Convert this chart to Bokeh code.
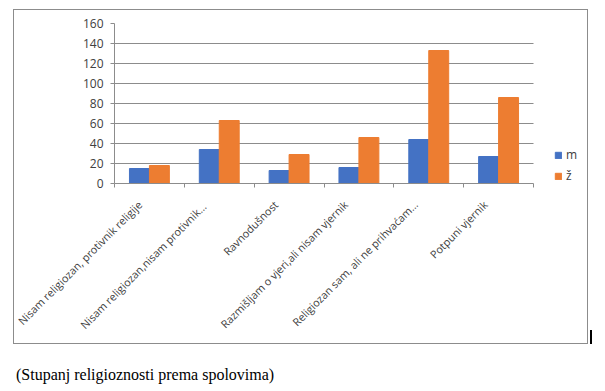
import math
from bokeh.plotting import figure
from bokeh.models import (ColumnDataSource, Range1d, FixedTicker, Legend, LegendItem, Div)
from bokeh.layouts import column, row
from bokeh.transform import dodge
from bokeh.embed import file_html
from bokeh.resources import INLINE

categories = [
    "Nisam religiozan, protivnik religije",
    "Nisam religiozan,nisam  protivnik…",
    "Ravnodušnost",
    "Razmišljam o vjeri,ali nisam vjernik",
    "Religiozan sam, ali ne prihvaćam…",
    "Potpuni vjernik",
]
m_values = [15, 34, 13, 16, 44, 27]
z_values = [18, 63, 29, 46, 133, 86]
y_ticks = [0, 20, 40, 60, 80, 100, 120, 140, 160]
series_names = ["m", "ž"]
caption = "(Stupanj religioznosti prema spolovima)"

BLUE = "#4472C4"
ORANGE = "#ED7D31"
GRAY = "#8c8c8c"
TEXT = "#404040"
FONT = "Open Sans"

n = len(categories)
centers = [i + 0.5 for i in range(n)]
label_pos = [c - 0.19 for c in centers]
src = ColumnDataSource(dict(x=centers, m=m_values, z=z_values))

W, H = 575, 335
LEFT, TOP, BOTTOM = 100, 13, 162
PLOT_W = 419                        # width of the category area in px
frame_w = W - LEFT                  # frame runs to the right edge (room for legend)
x_end = n * frame_w / PLOT_W

p = figure(width=W, height=H, output_backend="svg", toolbar_location=None,
           x_range=Range1d(0, x_end), y_range=Range1d(0, 160),
           min_border_left=LEFT, min_border_right=0, min_border_top=TOP,
           min_border_bottom=BOTTOM, margin=(9, 0, 0, 13),
           styles={"border": "1px solid #8c8c8c"})
p.outline_line_color = None
p.background_fill_color = "white"
p.border_fill_color = "white"

bw = 0.2857
r_m = p.vbar(x=dodge("x", -bw / 2), top="m", width=bw, source=src, color=BLUE)
r_z = p.vbar(x=dodge("x", bw / 2), top="z", width=bw, source=src, color=ORANGE)

# y axis
p.yaxis.ticker = FixedTicker(ticks=y_ticks)
p.yaxis.axis_line_color = GRAY
p.yaxis.major_tick_line_color = GRAY
p.yaxis.major_tick_in = 0
p.yaxis.major_tick_out = 4
p.yaxis.minor_tick_line_color = None
p.yaxis.major_label_text_font = FONT
p.yaxis.major_label_text_font_size = "12px"
p.yaxis.major_label_text_color = TEXT
p.yaxis.major_label_standoff = 7
p.ygrid.grid_line_color = GRAY
p.ygrid.ticker = FixedTicker(ticks=y_ticks)
p.ygrid.cross_bounds = (0, n)

# x axis: tick marks at category boundaries, rotated labels
p.xaxis.bounds = (0, n)
p.xaxis.ticker = FixedTicker(ticks=label_pos, minor_ticks=list(range(n + 1)))
p.xaxis.major_label_overrides = {c: lab for c, lab in zip(label_pos, categories)}
p.xaxis.axis_line_color = GRAY
p.xaxis.major_tick_line_color = None
p.xaxis.minor_tick_line_color = GRAY
p.xaxis.minor_tick_in = 0
p.xaxis.minor_tick_out = 4
p.xaxis.major_label_orientation = math.pi / 4
p.xaxis.major_label_text_font = FONT
p.xaxis.major_label_text_font_size = "10.8px"
p.xaxis.major_label_text_color = TEXT
p.xaxis.major_label_standoff = 13
p.xgrid.grid_line_color = None

legend = Legend(items=[LegendItem(label=series_names[0], renderers=[r_m]),
                       LegendItem(label=series_names[1], renderers=[r_z])],
                location=(440, -1), orientation="vertical",
                glyph_width=8, glyph_height=8, label_standoff=4, spacing=4,
                label_height=16, padding=0, margin=0, border_line_color=None,
                background_fill_alpha=0, label_text_font=FONT,
                label_text_font_size="12px", label_text_color=TEXT)
p.add_layout(legend, "center")

cursor = Div(width=2, height=14, margin=(330, 0, 0, 2),
             styles={"background-color": "black"})

cap = Div(text=caption, margin=(20, 0, 0, 16),
          styles={"font-family": "'Liberation Serif', serif", "font-size": "16px",
                  "color": "black", "white-space": "nowrap"})

layout = column(row(p, cursor), cap)

open("out.html", "w").write(file_html(layout, INLINE))
